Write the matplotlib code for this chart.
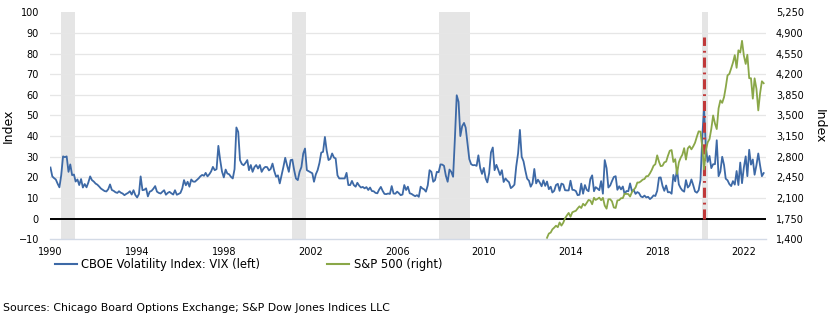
import numpy as np
import pandas as pd
import matplotlib
matplotlib.use("Agg")
import matplotlib.pyplot as plt
import matplotlib.dates as mdates
from matplotlib.ticker import FuncFormatter, FixedLocator
from matplotlib.lines import Line2D

plt.rcParams['font.family'] = ['DejaVu Sans']

# ---------------- data ----------------
vix_by_year = {
    1990: [24.8, 20.5, 19.7, 19.0, 17.0, 15.2, 21.0, 30.2, 29.8, 30.2, 22.7, 26.3],
    1991: [21.1, 21.4, 18.0, 19.0, 16.3, 19.2, 15.1, 16.8, 15.2, 17.5, 20.5, 18.7],
    1992: [18.0, 17.0, 16.5, 15.6, 14.6, 14.0, 13.4, 13.2, 14.3, 16.6, 13.9, 13.5],
    1993: [12.8, 12.5, 13.3, 12.6, 12.2, 11.4, 12.0, 12.5, 13.3, 11.7, 13.8, 11.5],
    1994: [10.3, 12.0, 20.5, 13.8, 14.0, 14.7, 10.8, 13.1, 13.5, 14.5, 15.8, 13.1],
    1995: [12.5, 12.2, 13.0, 13.8, 11.6, 12.5, 13.0, 12.3, 11.7, 13.8, 11.6, 12.0],
    1996: [12.5, 14.7, 18.7, 16.2, 17.9, 15.5, 19.0, 18.0, 17.9, 18.7, 19.5, 20.5],
    1997: [21.2, 20.8, 22.2, 20.5, 21.5, 22.9, 25.1, 23.5, 24.0, 35.3, 28.4, 22.9],
    1998: [20.0, 23.8, 21.9, 21.5, 20.3, 19.5, 24.0, 44.2, 42.0, 28.4, 26.5, 25.9],
    1999: [27.0, 28.4, 23.5, 26.0, 22.7, 25.0, 26.0, 24.3, 26.0, 22.7, 24.3, 25.1],
    2000: [25.0, 23.4, 24.1, 26.7, 23.0, 20.3, 21.0, 17.1, 21.0, 25.0, 29.5, 26.0],
    2001: [22.7, 28.4, 28.6, 23.5, 19.5, 18.7, 22.7, 25.0, 31.6, 34.0, 23.5, 23.0],
    2002: [22.5, 22.0, 17.9, 21.5, 23.5, 27.0, 32.0, 32.4, 39.6, 33.0, 28.4, 29.0],
    2003: [31.6, 29.6, 29.2, 21.0, 19.5, 19.5, 19.5, 19.5, 22.2, 16.3, 16.3, 18.3],
    2004: [16.3, 15.5, 17.4, 16.0, 15.1, 15.4, 14.7, 15.3, 13.9, 15.1, 13.4, 13.3],
    2005: [12.5, 12.3, 14.0, 15.4, 13.5, 12.0, 11.9, 12.2, 12.0, 15.8, 12.2, 12.1],
    2006: [13.1, 12.3, 11.4, 11.7, 16.3, 13.9, 15.5, 12.3, 12.0, 11.4, 10.9, 11.4],
    2007: [10.6, 15.5, 14.7, 14.2, 13.1, 16.2, 23.5, 22.7, 17.9, 18.7, 22.7, 22.5],
    2008: [26.3, 26.2, 25.6, 20.8, 17.9, 23.8, 22.7, 20.3, 39.4, 59.8, 56.6, 40.0],
    2009: [44.8, 46.4, 44.1, 36.5, 28.9, 26.4, 25.9, 26.0, 25.6, 30.7, 24.5, 21.7],
    2010: [24.6, 19.5, 17.6, 22.1, 32.1, 34.5, 23.5, 26.1, 23.7, 21.2, 23.5, 17.8],
    2011: [19.5, 18.4, 17.7, 14.8, 15.5, 16.5, 25.3, 31.6, 43.0, 30.0, 27.8, 23.4],
    2012: [19.4, 18.4, 15.5, 17.2, 24.1, 17.1, 18.9, 17.5, 15.7, 18.6, 15.9, 18.0],
    2013: [14.3, 15.5, 12.7, 13.5, 16.3, 16.9, 13.5, 17.0, 16.6, 13.8, 13.7, 13.7],
    2014: [18.4, 14.0, 13.9, 13.4, 11.4, 11.6, 17.0, 12.1, 16.3, 14.0, 13.3, 19.2],
    2015: [21.0, 13.3, 15.3, 14.6, 13.8, 18.2, 12.1, 28.4, 24.5, 15.1, 16.1, 18.2],
    2016: [20.2, 20.6, 14.0, 15.7, 14.2, 15.6, 11.9, 13.4, 13.3, 17.1, 13.3, 14.0],
    2017: [12.0, 12.9, 12.4, 10.8, 10.4, 11.2, 10.3, 10.6, 9.5, 10.2, 11.3, 11.0],
    2018: [13.5, 19.9, 20.0, 15.9, 13.5, 16.1, 12.8, 12.9, 12.1, 21.2, 18.1, 24.0],
    2019: [16.6, 14.8, 13.7, 13.1, 18.7, 15.1, 16.1, 19.0, 16.2, 13.2, 12.6, 13.8],
    2020: [18.8, 40.1, 53.5, 34.2, 27.5, 30.4, 24.5, 26.4, 26.4, 38.0, 20.6, 22.8],
    2021: [30.0, 26.0, 19.4, 18.6, 16.8, 15.8, 18.2, 16.5, 23.1, 16.3, 27.2, 17.2],
    2022: [24.8, 30.2, 20.6, 33.4, 26.2, 28.7, 21.3, 25.9, 31.6, 25.9, 20.6, 22.1],
}

spx_start = "2012-12-01"
spx_values = [
    1426,
    1498, 1515, 1569, 1598, 1631, 1606, 1686, 1633, 1682, 1757, 1806, 1848,
    1783, 1859, 1872, 1884, 1924, 1960, 1931, 2003, 1972, 2018, 2068, 2059,
    1995, 2105, 2068, 2086, 2107, 2063, 2104, 1972, 1920, 2079, 2080, 2044,
    1940, 1932, 2060, 2065, 2097, 2099, 2174, 2171, 2168, 2126, 2199, 2239,
    2279, 2364, 2363, 2384, 2412, 2423, 2470, 2472, 2519, 2575, 2648, 2674,
    2824, 2714, 2641, 2648, 2705, 2718, 2816, 2902, 2914, 2712, 2760, 2507,
    2704, 2784, 2834, 2946, 2752, 2942, 2980, 2926, 2977, 3038, 3141, 3231,
    3226, 2954, 2585, 2912, 3044, 3100, 3271, 3500, 3363, 3270, 3622, 3756,
    3714, 3811, 3973, 4181, 4204, 4298, 4395, 4523, 4308, 4605, 4567, 4766,
    4516, 4374, 4530, 4132, 4132, 3785, 4130, 3955, 3586, 3872, 4080, 4047,
]

recessions = [("1990-07-01", "1991-02-20"), ("2001-02-15", "2001-10-15"),
              ("2007-12-01", "2009-05-15"), ("2020-02-01", "2020-04-30")]
event_date = "2020-03-01"
event_top = 88

year_ticks = list(range(1990, 2023, 4))
left_ticks = list(range(-10, 101, 10))
right_ticks = list(range(1400, 5251, 350))

vix_label = "CBOE Volatility Index: VIX (left)"
spx_label = "S&P 500 (right)"
source_text = "Sources: Chicago Board Options Exchange; S&P Dow Jones Indices LLC"

# ---------------- build series ----------------
vix_vals = [v for y in sorted(vix_by_year) for v in vix_by_year[y]]
vix_dates = pd.date_range("1990-01-01", periods=len(vix_vals), freq="MS")
spx_dates = pd.date_range(spx_start, periods=len(spx_values), freq="MS")

BLUE = "#3D69A6"
GREEN = "#8AA748"
RED = "#C0393A"
GRAY = "#E5E5E5"

fig = plt.figure(figsize=(8.3, 3.23), dpi=100)
ax = fig.add_axes([0.0608, 0.259, 0.8615, 0.703])
ax2 = ax.twinx()

ax.set_xlim(pd.Timestamp("1990-01-01"), pd.Timestamp("2023-01-01"))
ax.set_ylim(-10, 100)
ax2.set_ylim(1400, 5250)

for s, e in recessions:
    ax.axvspan(pd.Timestamp(s), pd.Timestamp(e), color=GRAY, lw=0, zorder=0)

ax.yaxis.set_major_locator(FixedLocator(left_ticks))
ax.grid(axis='y', color="#E6E6E6", lw=0.9, zorder=0.5)
ax.set_axisbelow(True)
gl = ax.get_ygridlines()
gl[0].set_visible(False)
gl[-1].set_visible(False)

ax.axhline(0, color="black", lw=1.4, zorder=2)

ax.plot(vix_dates, vix_vals, color=BLUE, lw=1.3, zorder=4)
ax2.plot(spx_dates, spx_values, color=GREEN, lw=1.3, zorder=3)

ax.vlines(pd.Timestamp(event_date), 0, event_top, colors=RED, lw=2.2,
          linestyles=[(0, (3.3, 1.6, 0.6, 1.6))], zorder=5)

for a in (ax, ax2):
    for sp in a.spines.values():
        sp.set_visible(False)
ax.spines['bottom'].set_visible(True)
ax.spines['bottom'].set_color("#D3DAE6")
ax.spines['bottom'].set_linewidth(1.0)

ax.xaxis.set_major_locator(FixedLocator([mdates.date2num(pd.Timestamp(f"{y}-01-01")) for y in year_ticks]))
ax.xaxis.set_major_formatter(FuncFormatter(lambda x, p: mdates.num2date(x).strftime("%Y")))
ax.tick_params(axis='x', length=0, pad=5.5, labelsize=7)
ax.tick_params(axis='y', length=0, pad=8.3, labelsize=7)
ax2.yaxis.set_major_locator(FixedLocator(right_ticks))
ax2.yaxis.set_major_formatter(FuncFormatter(lambda v, p: f"{int(v):,}"))
ax2.tick_params(axis='y', length=0, pad=7.5, labelsize=7)

ax.set_ylabel("Index", fontsize=9)
ax.yaxis.set_label_coords(-0.050, 0.5)
ax2.set_ylabel("Index", fontsize=9, rotation=270, va='bottom')
ax2.yaxis.set_label_coords(1.066, 0.5)

handles = [Line2D([], [], color=BLUE, lw=1.5), Line2D([], [], color=GREEN, lw=1.5)]
fig.legend(handles, [vix_label, spx_label], loc='center left',
           bbox_to_anchor=(0.066, 0.182), ncol=2, frameon=False, fontsize=8.3,
           handlelength=1.9, handletextpad=0.4, columnspacing=5.8, borderpad=0,
           borderaxespad=0)

fig.text(0.004, 0.046, source_text, fontsize=7.85, va='center', ha='left')

fig.savefig("out.png", dpi=100)
